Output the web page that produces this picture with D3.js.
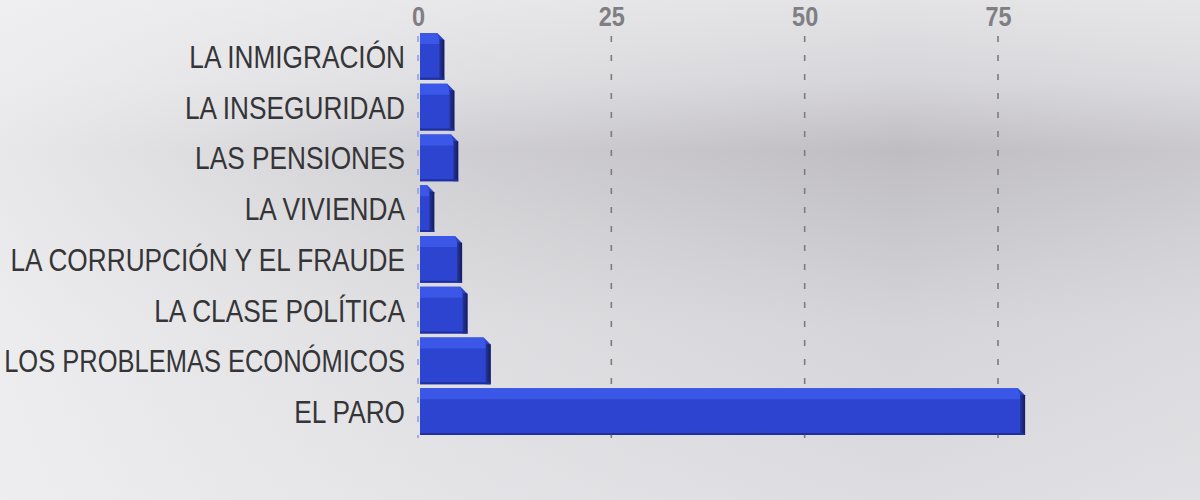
<!DOCTYPE html>
<html>
<head>
<meta charset="utf-8">
<script src="https://cdn.jsdelivr.net/npm/d3@7"></script>
<style>
  html, body { margin: 0; padding: 0; overflow: hidden; background: #dedde1; }
  svg { display: block; }
</style>
</head>
<body>
<div id="chart"></div>
<script>
const width = 1200;
const height = 500;

// Data (percentages)
const categories = [
  "LA INMIGRACIÓN",
  "LA INSEGURIDAD",
  "LAS PENSIONES",
  "LA VIVIENDA",
  "LA CORRUPCIÓN Y EL FRAUDE",
  "LA CLASE POLÍTICA",
  "LOS PROBLEMAS ECONÓMICOS",
  "EL PARO"
];
const values = [3.4, 4.7, 5.2, 2.1, 5.7, 6.4, 9.4, 78.5];
const tickValues = [0, 25, 50, 75];

// condensed look: Arial-metric font squeezed horizontally
const labelFont = "'Liberation Sans', Arial, sans-serif";
const squeeze = 0.82;
const labelRight = 405;

const svg = d3
  .select("#chart")
  .append("svg")
  .attr("width", width)
  .attr("height", height);

const defs = svg.append("defs");

// Background gradients
const bgV = defs.append("linearGradient").attr("id", "bgV")
  .attr("x1", 0).attr("y1", 0).attr("x2", 0).attr("y2", 1);
[["0%", "#e3e2e5"], ["16%", "#d6d5d9"], ["30%", "#bfbdc2"], ["42%", "#c6c5c9"],
 ["65%", "#d5d4d8"], ["100%", "#dddce0"]]
  .forEach(([o, c]) => bgV.append("stop").attr("offset", o).attr("stop-color", c));

const bgH = defs.append("linearGradient").attr("id", "bgH")
  .attr("x1", 0).attr("y1", 0).attr("x2", 1).attr("y2", 0);
bgH.append("stop").attr("offset", "0%").attr("stop-color", "#f2f2f4").attr("stop-opacity", 0.8);
bgH.append("stop").attr("offset", "40%").attr("stop-color", "#f2f2f4").attr("stop-opacity", 0.3);
bgH.append("stop").attr("offset", "75%").attr("stop-color", "#f2f2f4").attr("stop-opacity", 0);
bgH.append("stop").attr("offset", "100%").attr("stop-color", "#f2f2f4").attr("stop-opacity", 0.2);

const sideGrad = defs.append("linearGradient").attr("id", "side")
  .attr("x1", 0).attr("y1", 0).attr("x2", 1).attr("y2", 0);
sideGrad.append("stop").attr("offset", "0%").attr("stop-color", "#26359f");
sideGrad.append("stop").attr("offset", "100%").attr("stop-color", "#141c5c");

svg.append("rect").attr("width", width).attr("height", height).attr("fill", "url(#bgV)");
svg.append("rect").attr("width", width).attr("height", height).attr("fill", "url(#bgH)");

// Scales
const x = d3.scaleLinear().domain([0, 75]).range([418, 998]);
const y = d3.scaleBand().domain(categories).range([33, 435]).paddingInner(0.08).paddingOuter(0);

// Gridlines (dashed)
svg.append("g")
  .selectAll("line")
  .data(tickValues)
  .join("line")
  .attr("x1", (d) => x(d))
  .attr("x2", (d) => x(d))
  .attr("y1", 36)
  .attr("y2", 438)
  .attr("stroke", (d) => (d === 0 ? "#8c9ff0" : "#7c7c80"))
  .attr("stroke-width", 1.6)
  .attr("stroke-dasharray", "6,13");

// Top axis labels
const xAxis = d3.axisTop(x).tickValues(tickValues).tickSize(0).tickPadding(0);
const axisG = svg.append("g").attr("transform", "translate(0, 26)").call(xAxis);
axisG.select(".domain").remove();
axisG.selectAll("text")
  .attr("dy", 0)
  .attr("transform", "scale(0.84,1)")
  .attr("fill", "#7f7f83")
  .style("font-family", labelFont)
  .style("font-weight", "bold")
  .style("font-size", "28px");

// Bars with a simple bevelled 3D look
const bw = y.bandwidth();
const cut = 7;
const bars = svg.append("g")
  .selectAll("g")
  .data(categories.map((c, i) => ({ c, v: values[i] })))
  .join("g");

bars.append("path")
  .attr("fill", "#2c44cf")
  .attr("d", (d) => {
    const x0 = x(0) + 2, x1 = x(d.v), y0 = y(d.c), y1 = y0 + bw;
    return `M${x0},${y0}L${x1 - cut},${y0}L${x1},${y0 + cut}L${x1},${y1}L${x0},${y1}Z`;
  });

// lighter top face
bars.append("path")
  .attr("fill", "#3a57e8")
  .attr("d", (d) => {
    const x0 = x(0) + 2, x1 = x(d.v), y0 = y(d.c), t = Math.round(bw * 0.24);
    return `M${x0},${y0}L${x1 - cut},${y0}L${x1 - cut + t * 0.3},${y0 + t}L${x0},${y0 + t}Z`;
  });

// dark right side
bars.append("path")
  .attr("fill", "url(#side)")
  .attr("d", (d) => {
    const x1 = x(d.v), y0 = y(d.c), y1 = y0 + bw, s = 5;
    return `M${x1 - s},${y0 + cut - 1}L${x1},${y0 + cut}L${x1},${y1}L${x1 - s},${y1}Z`;
  });

// bottom shadow line
bars.append("line")
  .attr("x1", x(0) + 2)
  .attr("x2", (d) => x(d.v))
  .attr("y1", (d) => y(d.c) + bw - 1)
  .attr("y2", (d) => y(d.c) + bw - 1)
  .attr("stroke", "#1f2f9e")
  .attr("stroke-width", 2);

// Category labels, squeezed a bit more when they would run off the left edge
svg.append("g")
  .selectAll("text")
  .data(categories)
  .join("text")
  .attr("dy", "0.36em")
  .attr("text-anchor", "end")
  .attr("fill", "#353537")
  .style("font-family", labelFont)
  .style("font-size", "32px")
  .text((d) => d)
  .attr("transform", function (d) {
    const len = this.getComputedTextLength();
    const s = Math.min(squeeze, (labelRight - 4) / len);
    return `translate(${labelRight}, ${y(d) + bw / 2}) scale(${s},1)`;
  });
</script>
</body>
</html>
